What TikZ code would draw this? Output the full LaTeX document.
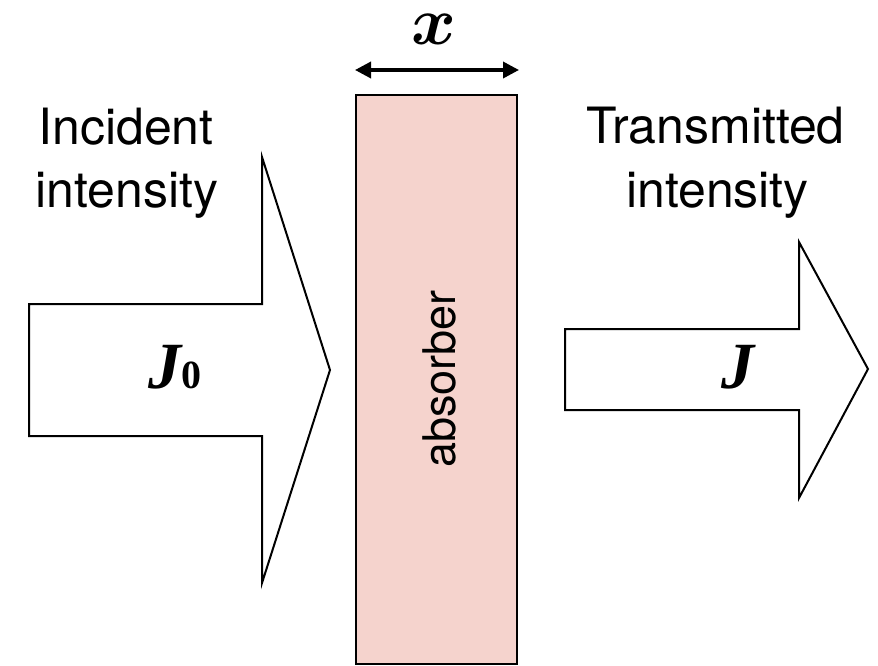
\documentclass[tikz,border=0pt]{standalone}
\usepackage{fontspec}
\usepackage{unicode-math}
\setmainfont{TeX Gyre Heros}
\setmathfont{Latin Modern Math}
\newfontfamily\tms{Liberation Serif}
\usetikzlibrary{arrows.meta}
\definecolor{abspink}{RGB}{245,211,205}
\tikzset{
  bigarrow/.style={draw=black, line width=2pt, fill=white, line join=miter},
  lbl/.style={inner sep=0pt, anchor=base, font=\fontsize{50}{60}\selectfont},
  mathlbl/.style={inner sep=0pt, anchor=base, font=\tms\bfseries\fontsize{66}{70}\selectfont},
}
\begin{document}
\begin{tikzpicture}[x=1pt,y=-1pt]
\useasboundingbox (0,0) rectangle (878,666);
% left arrow
\draw[bigarrow] (29,304) -- (262,304) -- (262,157) -- (330,370) -- (262,583) -- (262,436) -- (29,436) -- cycle;
% right arrow
\draw[bigarrow] (565,329) -- (799,329) -- (799,242) -- (868,369) -- (799,498) -- (799,410) -- (565,410) -- cycle;
% absorber
\node[draw=black, line width=2.4pt, fill=abspink, minimum width=161pt, minimum height=569pt, inner sep=0pt] (absorber) at (436.5,379.5) {};
\node[lbl, rotate=90, font=\fontsize{45}{50}\selectfont] (abslbl) at (455,379) {absorber};
% dimension arrow
\coordinate (dl) at (355,70);
\coordinate (dr) at (519,70);
\draw[line width=3.5pt, {Triangle[length=16pt,width=16pt]}-{Triangle[length=16pt,width=16pt]}] (dl) -- (dr);
\node[inner sep=0pt, anchor=base, font=\fontsize{68}{72}\selectfont] (xlbl) at (434,45) {$\symbfit{x}$};
% labels
\node[lbl] (inc1) at (126,145) {Incident};
\node[lbl] (inc2) at (127,207) {intensity};
\node[lbl] (tr1) at (715.5,143) {Transmitted};
\node[lbl] (tr2) at (717.5,207) {intensity};
\node[mathlbl] (jzero) at (175,388) {{\itshape J}{\fontsize{40}{40}\selectfont 0}};
\node[mathlbl] (jone) at (738,388) {\itshape J};
\end{tikzpicture}
\end{document}
